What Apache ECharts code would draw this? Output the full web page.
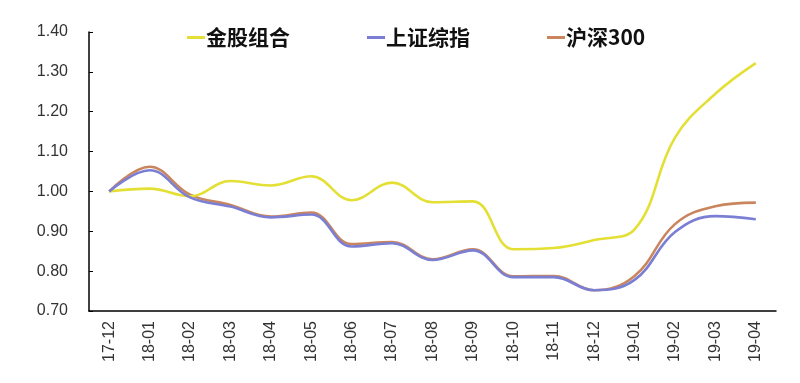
<!DOCTYPE html>
<html>
<head>
<meta charset="utf-8">
<script src="https://cdn.jsdelivr.net/npm/echarts@6/dist/echarts.min.js"></script>
<style>
html,body{margin:0;padding:0;background:#fff;}
#chart{width:800px;height:383px;}
</style>
</head>
<body>
<div id="chart"></div>
<script>
var categories = ['17-12','18-01','18-02','18-03','18-04','18-05','18-06','18-07','18-08','18-09','18-10','18-11','18-12','19-01','19-02','19-03','19-04'];
var seriesNames = ['金股组合','上证综指','沪深300'];
var goldStocks = [1.00,1.007,0.988,1.026,1.015,1.038,0.978,1.022,0.973,0.975,0.855,0.858,0.878,0.905,1.135,1.245,1.322];
var shIndex    = [1.00,1.053,0.985,0.962,0.935,0.942,0.862,0.870,0.828,0.852,0.785,0.785,0.752,0.778,0.898,0.938,0.930];
var hs300      = [1.00,1.062,0.992,0.966,0.937,0.947,0.868,0.873,0.830,0.855,0.787,0.788,0.752,0.788,0.918,0.963,0.972];
var yTicks = {min:0.70, max:1.40, interval:0.10};

var colors = ['#e4df35','#7b7fd4','#c9865e'];
var chart = echarts.init(document.getElementById('chart'));
var data = [goldStocks, shIndex, hs300];
chart.setOption({
  backgroundColor:'#ffffff',
  animation:false,
  color:colors,
  legend:{
    top:22,
    left:182,
    itemGap:77,
    itemWidth:18,
    itemHeight:3,
    icon:'rect',
    data:seriesNames,
    textStyle:{fontFamily:'Noto Sans CJK SC',fontWeight:'bold',fontSize:21,color:'#111',padding:[0,0,0,-4]}
  },
  grid:{left:89,right:24,top:32,bottom:72},
  xAxis:{
    type:'category',
    data:categories,
    boundaryGap:true,
    axisLine:{lineStyle:{color:'#000',width:1.5}},
    axisTick:{inside:true,length:5,lineStyle:{color:'#000'}},
    axisLabel:{rotate:90,fontFamily:'Liberation Sans',fontSize:16,color:'#333',margin:10}
  },
  yAxis:{
    type:'value',
    min:yTicks.min,max:yTicks.max,interval:yTicks.interval,
    axisLine:{show:true,lineStyle:{color:'#000',width:1.5}},
    axisTick:{show:true,inside:true,length:4,lineStyle:{color:'#000'}},
    splitLine:{show:false},
    axisLabel:{fontFamily:'Liberation Sans',fontSize:16,color:'#333',margin:21,
      formatter:function(v){return v.toFixed(2);}}
  },
  series:seriesNames.map(function(n,i){
    return {name:n,type:'line',smooth:0.4,symbol:'none',data:data[i],
      lineStyle:{width:2.6,color:colors[i]},z:i===0?3:(i===1?4:2)};
  })
});
</script>
</body>
</html>
